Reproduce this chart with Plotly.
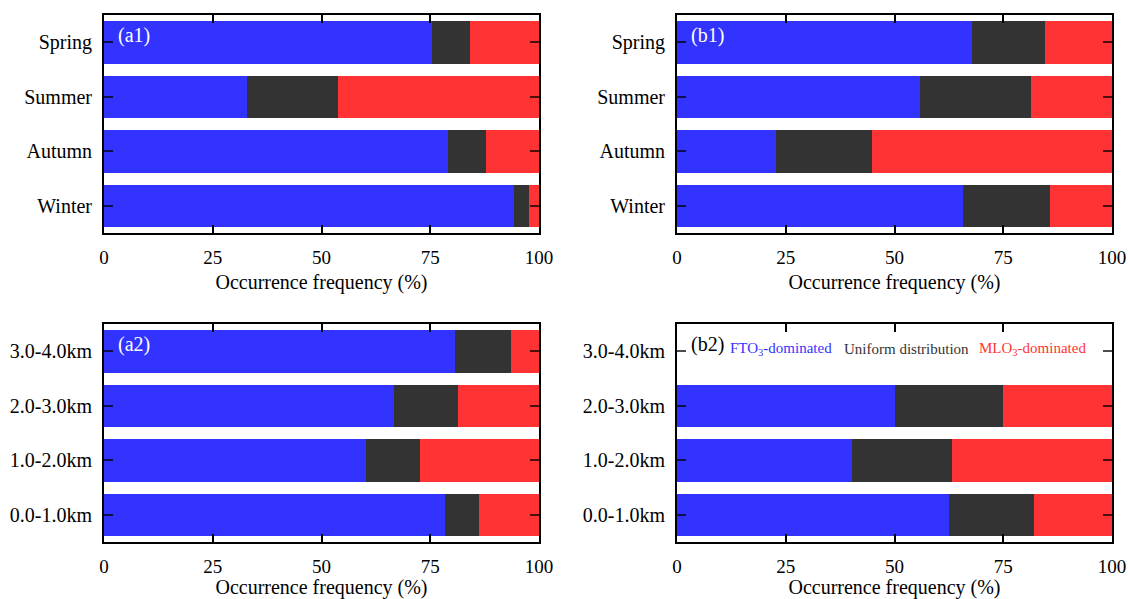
import plotly.graph_objects as go

# Occurrence frequency (%) of each vertical ozone distribution type
seasons = ["Spring", "Summer", "Autumn", "Winter"]
layers = ["3.0-4.0km", "2.0-3.0km", "1.0-2.0km", "0.0-1.0km"]

# panel a1 (seasons)
a1_fto = [75.3, 32.9, 79.0, 94.2]
a1_uni = [8.9, 20.8, 8.7, 3.6]
a1_mlo = [15.8, 46.3, 12.3, 2.2]

# panel b1 (seasons)
b1_fto = [67.7, 55.9, 22.8, 65.8]
b1_uni = [16.9, 25.5, 22.0, 20.0]
b1_mlo = [15.4, 18.6, 55.2, 14.2]

# panel a2 (altitude layers)
a2_fto = [80.8, 66.7, 60.2, 78.4]
a2_uni = [12.8, 14.7, 12.4, 7.9]
a2_mlo = [6.4, 18.6, 27.4, 13.7]

# panel b2 (altitude layers, no data for the top layer)
b2_fto = [None, 50.0, 40.2, 62.6]
b2_uni = [None, 24.9, 23.1, 19.5]
b2_mlo = [None, 25.1, 36.7, 17.9]

x_ticks = [0, 25, 50, 75, 100]
x_title = "Occurrence frequency (%)"

BLUE = "#3333FF"
GREY = "#333333"
RED = "#FF3333"
FONT = "Liberation Serif, Times New Roman, serif"
W, H = 1128, 599

fig = go.Figure()

panels = [
    # (label, cats, fto, uni, mlo, x-domain px, y-domain px, label colour)
    ("(a1)", seasons, a1_fto, a1_uni, a1_mlo, (104, 539), (15, 233), "white"),
    ("(b1)", seasons, b1_fto, b1_uni, b1_mlo, (677, 1112), (15, 233), "white"),
    ("(a2)", layers, a2_fto, a2_uni, a2_mlo, (104, 539), (324, 542), "white"),
    ("(b2)", layers, b2_fto, b2_uni, b2_mlo, (677, 1112), (324, 542), "black"),
]

for i, (lab, cats, fto, uni, mlo, xd, yd, lcol) in enumerate(panels, start=1):
    xa = "x" if i == 1 else f"x{i}"
    ya = "y" if i == 1 else f"y{i}"
    for vals, col in ((fto, BLUE), (uni, GREY), (mlo, RED)):
        fig.add_trace(go.Bar(
            y=cats, x=vals, orientation="h", marker=dict(color=col, line=dict(width=0)),
            width=0.78, xaxis=xa, yaxis=ya, showlegend=False,
        ))
    xkey = "xaxis" if i == 1 else f"xaxis{i}"
    ykey = "yaxis" if i == 1 else f"yaxis{i}"
    fig.update_layout({
        xkey: dict(
            domain=[xd[0] / W, xd[1] / W], anchor=ya, range=[0, 100], automargin=False,
            tickvals=x_ticks, ticks="inside", ticklen=8, tickwidth=2, tickcolor="black",
            ticklabelstandoff=6,
            showline=True, linewidth=2, linecolor="black", mirror="ticks",
            showgrid=False, zeroline=False,
            tickfont=dict(family=FONT, size=19, color="black"),
            title=dict(text=x_title, font=dict(family=FONT, size=20, color="black"), standoff=8),
        ),
        ykey: dict(
            domain=[1 - yd[1] / H, 1 - yd[0] / H], anchor=xa, type="category", automargin=False,
            categoryorder="array", categoryarray=cats, range=[3.5, -0.5],
            ticks="inside", ticklen=9, tickwidth=2, tickcolor="rgba(0,0,0,0.7)",
            ticklabelstandoff=6,
            showline=True, linewidth=2, linecolor="black", mirror="ticks",
            showgrid=False, zeroline=False,
            tickfont=dict(family=FONT, size=20, color="black"),
        ),
    })
    fig.add_annotation(
        text=lab, xref=f"{xa} domain", yref=f"{ya} domain", x=0.027, y=0.908,
        xanchor="left", yanchor="middle", showarrow=False,
        font=dict(family=FONT, size=20, color=lcol),
    )

# type legend inside panel b2
legend_items = [
    ("FTO<sub>3</sub>-dominated", BLUE, 0.117),
    ("Uniform distribution", GREY, 0.379),
    ("MLO<sub>3</sub>-dominated", RED, 0.690),
]
for txt, col, xpos in legend_items:
    fig.add_annotation(
        text=txt, xref="x4 domain", yref="y4 domain", x=xpos, y=0.885,
        xanchor="left", yanchor="middle", showarrow=False,
        font=dict(family=FONT, size=15, color=col),
    )

fig.update_layout(
    barmode="stack", width=W, height=H,
    margin=dict(l=0, r=0, t=0, b=0, autoexpand=False),
    font=dict(family=FONT, color="black"),
    paper_bgcolor="white", plot_bgcolor="white",
)

fig.write_html("out.html")
